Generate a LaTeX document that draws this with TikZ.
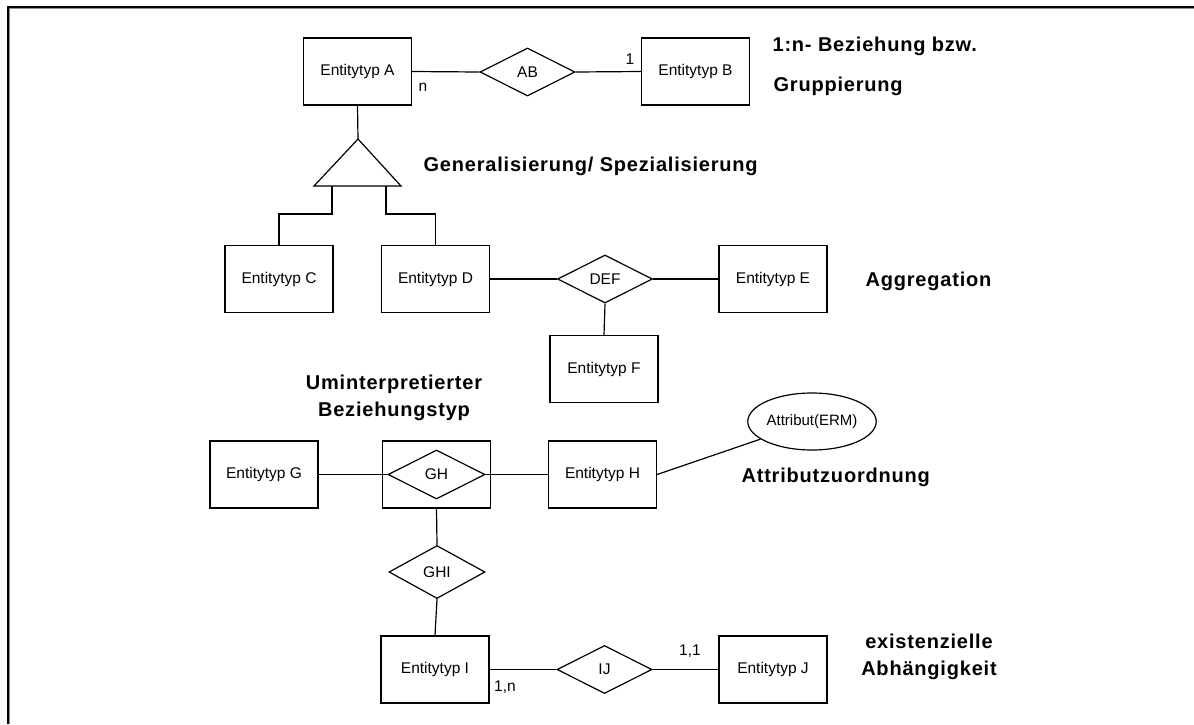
\documentclass[tikz,border=0pt]{standalone}
\usepackage{fontspec}
\setmainfont{Liberation Sans}
\newfontfamily\lblfont[LetterSpace=4]{Liberation Sans}
\usetikzlibrary{shapes.geometric}
\definecolor{frameshadow}{gray}{0.55}
\begin{document}
\begin{tikzpicture}[x=1pt,y=-1pt,
  line width=1.2pt,
  entity/.style={draw, rectangle, minimum width=108pt, minimum height=67pt,
    inner sep=0pt, font=\fontsize{15.5}{18}\selectfont},
  rel/.style={draw, diamond, minimum width=95pt, minimum height=48pt,
    inner sep=0pt, font=\fontsize{15.5}{18}\selectfont},
  card/.style={inner sep=0pt, font=\fontsize{15.5}{18}\selectfont},
  caption/.style={inner sep=0pt, font=\lblfont\bfseries\fontsize{20}{26.5}\selectfont}
]
\useasboundingbox (0,0) rectangle (1194,724);

% page frame (top and left edge with shadow)
\draw[frameshadow, line width=1pt] (9.5,724) -- (9.5,8.5) -- (1194,8.5);
\draw[line width=2pt] (7.5,724) -- (7.5,6.5) -- (1194,6.5);

% 1:n relationship
\node[entity] (A) at (357.5,71.5) {Entitytyp A};
\node[rel]    (AB) at (527.5,72) {AB};
\node[entity] (B) at (695.5,71.5) {Entitytyp B};
\draw (A.east) -- (AB.west);
\draw (AB.east) -- (B.west);
\node[card] (cn) at (423,87) {n};
\node[card] (c1) at (630,59) {1};
\node[caption, anchor=base west] (t1) at (772,51) {1:n- Beziehung bzw.};
\node[caption, anchor=base west] (t2) at (773,91) {Gruppierung};

% generalisation / specialisation triangle
\coordinate (apex) at (358,139);
\coordinate (tbl) at (314,186);
\coordinate (tbr) at (401,186);
\coordinate (footl) at (332,186);
\coordinate (footr) at (386,186);
\draw (tbl) -- (apex) -- (tbr) -- cycle;
\draw (A.south) -- (apex);
\node[caption, anchor=base west] (t3) at (423,171) {Generalisierung/ Spezialisierung};

% aggregation
\node[entity] (C) at (279,279) {Entitytyp C};
\node[entity] (D) at (435.5,279) {Entitytyp D};
\node[rel]    (DEF) at (605,279) {DEF};
\node[entity] (E) at (773,279) {Entitytyp E};
\node[entity] (F) at (604,369) {Entitytyp F};
\draw (footl) -- ++(0,28) -| (C.north);
\draw (footr) -- ++(0,28) -| (D.north);
\draw (D.east) -- (DEF.west);
\draw (DEF.east) -- (E.west);
\draw (DEF.south) -- (F.north);
\node[caption, anchor=base west] (t4) at (865,286) {Aggregation};

% reinterpreted relationship type
\node[caption, align=center] (t5) at (394,398) {Uminterpretierter\\Beziehungstyp};
\node[entity] (G) at (264,474.5) {Entitytyp G};
\node[entity] (GHbox) at (436.5,474.5) {};
\node[rel, minimum width=97pt, minimum height=49pt] (GH) at (436.5,474.5) {GH};
\node[entity] (H) at (602.5,474.5) {Entitytyp H};
\draw (G.east) -- (GH.west);
\draw (GH.east) -- (H.west);

% attribute
\node[draw, ellipse, minimum width=108pt, minimum height=57pt, inner sep=0pt,
  font=\fontsize{15}{17}\selectfont] (attr) at (812,421.5) {Attribut(ERM)};
\draw (H.east) -- (attr);
\node[caption, anchor=base west] (t6) at (741,482) {Attributzuordnung};

% existential dependency
\node[rel, minimum width=96pt, minimum height=53pt] (GHI) at (437,572) {GHI};
\node[entity] (I) at (435,669.5) {Entitytyp I};
\node[rel]    (IJ) at (604.5,669.5) {IJ};
\node[entity] (J) at (773,669.5) {Entitytyp J};
\draw (GHbox.south) -- (GHI.north);
\draw (GHI.south) -- (I.north);
\draw (I.east) -- (IJ.west);
\draw (IJ.east) -- (J.west);
\node[card] (c1n) at (505,687) {1,n};
\node[card] (c11) at (690,651) {1,1};
\node[caption, align=center] (t7) at (929,657) {existenzielle\\Abhängigkeit};
\end{tikzpicture}
\end{document}
